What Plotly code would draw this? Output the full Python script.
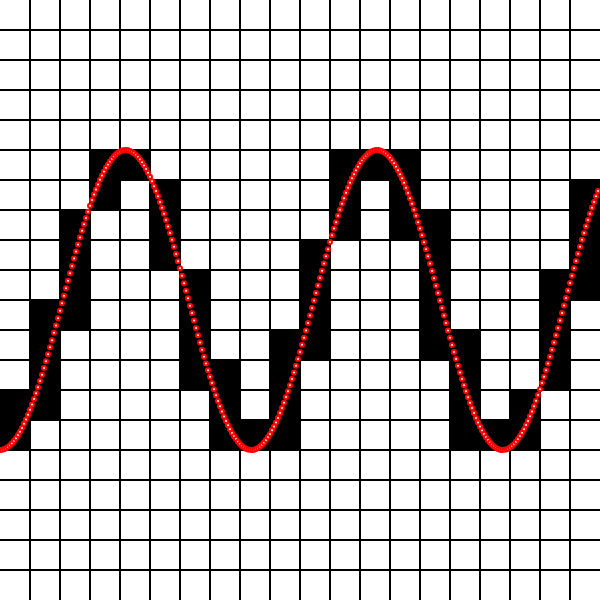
import plotly.graph_objects as go

curve_y = [
    -1.000, -0.999, -0.995, -0.989, -0.980, -0.969, -0.955, -0.939, -0.921, -0.900,
    -0.878, -0.853, -0.825, -0.796, -0.765, -0.732, -0.697, -0.660, -0.622, -0.582,
    -0.540, -0.498, -0.454, -0.408, -0.362, -0.315, -0.268, -0.219, -0.170, -0.121,
    -0.071, -0.021, 0.029, 0.079, 0.129, 0.178, 0.227, 0.276, 0.323, 0.370,
    0.416, 0.461, 0.505, 0.547, 0.589, 0.628, 0.666, 0.703, 0.737, 0.770,
    0.801, 0.830, 0.857, 0.882, 0.904, 0.924, 0.942, 0.958, 0.971, 0.982,
    0.990, 0.996, 0.999, 1.000, 0.998, 0.994, 0.987, 0.978, 0.967, 0.953,
    0.936, 0.918, 0.897, 0.874, 0.848, 0.821, 0.791, 0.759, 0.726, 0.691,
    0.654, 0.615, 0.575, 0.533, 0.490, 0.446, 0.401, 0.355, 0.307, 0.259,
    0.211, 0.162, 0.112, 0.062, 0.012, -0.038, -0.087, -0.137, -0.187, -0.235,
    -0.284, -0.331, -0.378, -0.424, -0.469, -0.512, -0.554, -0.595, -0.635, -0.673,
    -0.709, -0.743, -0.776, -0.806, -0.835, -0.861, -0.886, -0.908, -0.927, -0.945,
    -0.960, -0.973, -0.983, -0.991, -0.997, -0.999, -1.000, -0.998, -0.993, -0.986,
    -0.977, -0.965, -0.950, -0.933, -0.914, -0.893, -0.869, -0.844, -0.816, -0.786,
    -0.754, -0.720, -0.685, -0.647, -0.608, -0.568, -0.526, -0.483, -0.439, -0.393,
    -0.347, -0.299, -0.251, -0.203, -0.153, -0.104, -0.054, -0.004, 0.046, 0.096,
    0.146, 0.195, 0.244, 0.292, 0.339, 0.386, 0.431, 0.476, 0.519, 0.561,
    0.602, 0.641, 0.679, 0.715, 0.749, 0.781, 0.811, 0.839, 0.865, 0.889,
    0.911, 0.931, 0.948, 0.962, 0.975, 0.985, 0.992, 0.997, 1.000, 1.000,
    0.997, 0.992, 0.985, 0.975, 0.962, 0.948, 0.930, 0.911, 0.889, 0.865,
    0.839, 0.811, 0.781, 0.748, 0.714, 0.678, 0.641, 0.602, 0.561, 0.519,
    0.476, 0.431, 0.385, 0.339, 0.291, 0.243, 0.194, 0.145, 0.095, 0.046,
    -0.004, -0.054, -0.104, -0.154, -0.203, -0.252, -0.300, -0.347, -0.393, -0.439,
    -0.483, -0.526, -0.568, -0.609, -0.648, -0.685, -0.720, -0.754, -0.786, -0.816,
    -0.844, -0.870, -0.893, -0.915, -0.934, -0.950, -0.965, -0.977, -0.986, -0.993,
    -0.998, -1.000, -0.999, -0.997, -0.991, -0.983, -0.973, -0.960, -0.945, -0.927,
    -0.907, -0.885, -0.861, -0.834, -0.806, -0.775, -0.743, -0.708, -0.672, -0.634,
    -0.595, -0.554, -0.512, -0.468, -0.423, -0.378, -0.331, -0.283, -0.235, -0.186,
    -0.137, -0.087, -0.037, 0.013, 0.063, 0.113, 0.162, 0.211, 0.260, 0.308,
    0.355, 0.401, 0.446, 0.491, 0.534, 0.575, 0.615, 0.654, 0.691, 0.726,
]
curve_x = list(range(len(curve_y)))  # sample index

# Filled grid cells: for each column, first and last filled row (row 0 = top)
fill_cols = list(range(20))
fill_row_first = [13, 10, 7, 5, 5, 6, 9, 12, 14, 11, 8, 5, 5, 5, 7, 11, 14, 13, 9, 6]
fill_row_last = [14, 13, 10, 6, 5, 8, 12, 14, 14, 14, 11, 7, 5, 7, 11, 14, 14, 14, 12, 9]

# grid geometry in data units
N_CELLS = 20
X_MAX = 300.0
Y_MIN, Y_MAX = -2.0, 2.0
cw = X_MAX / N_CELLS
ch = (Y_MAX - Y_MIN) / N_CELLS

bar_x = [(c + 0.5) * cw for c in fill_cols]
bar_base = [Y_MAX - (l + 1) * ch for l in fill_row_last]
bar_h = [(l - f + 1) * ch for f, l in zip(fill_row_first, fill_row_last)]

fig = go.Figure()
fig.add_trace(go.Bar(
    x=bar_x, y=bar_h, base=bar_base, width=cw,
    marker=dict(color="black", line=dict(width=0)),
    hoverinfo="skip", showlegend=False,
))
fig.add_trace(go.Scatter(
    x=curve_x, y=curve_y, mode="markers",
    marker=dict(symbol="circle", size=4, color="white",
                line=dict(color="red", width=2)),
    showlegend=False,
))

grid_x = [k * cw for k in range(1, N_CELLS)]
grid_y = [Y_MIN + k * ch for k in range(1, N_CELLS)]

fig.update_layout(
    width=600, height=600,
    margin=dict(l=0, r=0, t=0, b=0),
    paper_bgcolor="white", plot_bgcolor="white",
    bargap=0,
    xaxis=dict(range=[0, X_MAX], tickvals=grid_x, showticklabels=False,
               showgrid=True, gridcolor="black", gridwidth=2,
               zeroline=False, showline=False, ticks=""),
    yaxis=dict(range=[Y_MIN, Y_MAX], tickvals=grid_y, showticklabels=False,
               showgrid=True, gridcolor="black", gridwidth=2,
               zeroline=False, showline=False, ticks=""),
)

fig.write_html("out.html")
